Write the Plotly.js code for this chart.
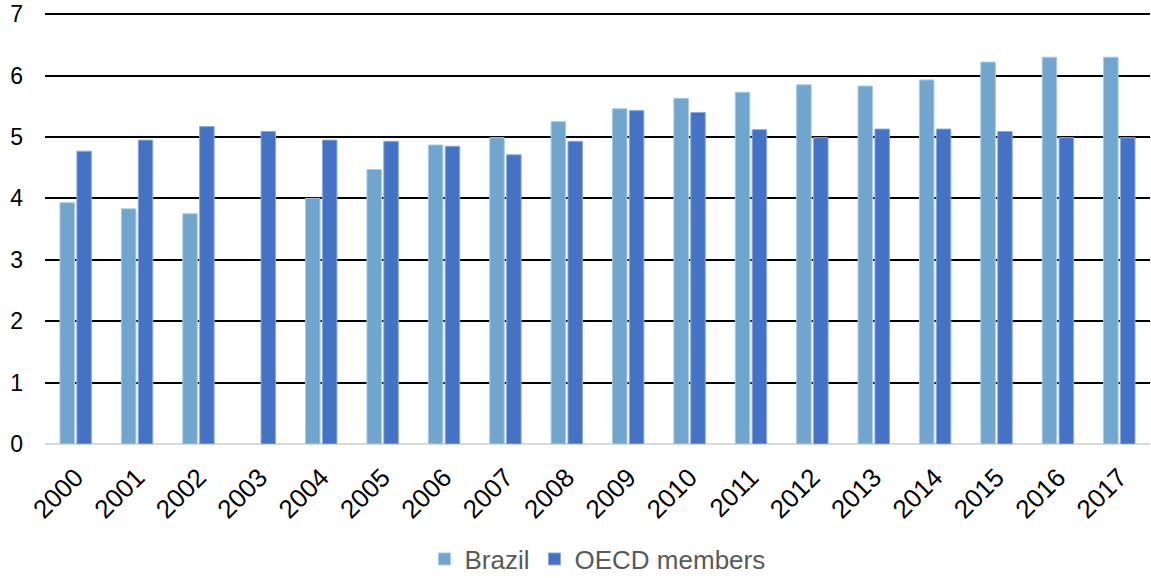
<!DOCTYPE html>
<html>
<head>
<meta charset="utf-8">
<script src="https://cdn.plot.ly/plotly-3.0.1.min.js"></script>
<style>
  html, body { margin: 0; padding: 0; background: #fff; }
  #chart { width: 1151px; height: 578px; }
</style>
</head>
<body>
<div id="chart"></div>
<script>
// Years on the category axis
const years = ['2000','2001','2002','2003','2004','2005','2006','2007','2008',
               '2009','2010','2011','2012','2013','2014','2015','2016','2017'];

// Brazil (no value reported for 2003)
const brazil = [3.93, 3.83, 3.75, null, 4.00, 4.47, 4.87, 4.99, 5.25,
                5.46, 5.63, 5.73, 5.85, 5.83, 5.93, 6.22, 6.30, 6.30];

// OECD members average
const oecd = [4.77, 4.95, 5.17, 5.09, 4.95, 4.93, 4.85, 4.71, 4.93,
              5.43, 5.40, 5.12, 4.99, 5.13, 5.13, 5.09, 4.99, 4.99];

const yTicks = [0, 1, 2, 3, 4, 5, 6, 7];

const font = 'Liberation Sans, Arial, Helvetica, sans-serif';

const traces = [
  {
    type: 'bar', name: 'Brazil', x: years, y: brazil,
    marker: { color: '#70A5CE', line: { color: '#A9CBE6', width: 1 } }
  },
  {
    type: 'bar', name: 'OECD members', x: years, y: oecd,
    marker: { color: '#4472C4', line: { color: '#8FA9DC', width: 1 } }
  }
];

const layout = {
  width: 1151, height: 578,
  margin: { l: 45, r: 1, t: 13, b: 134, autoexpand: false },
  paper_bgcolor: '#fff', plot_bgcolor: '#fff',
  barmode: 'group',
  bargap: 0.45,
  bargroupgap: 0.14,
  font: { family: font, size: 23, color: '#000' },
  xaxis: {
    type: 'category',
    tickangle: -45,
    tickfont: { family: font, size: 26, color: '#000' },
    showgrid: false, showline: false, ticks: '',
    zeroline: false, automargin: false,
    ticklabelstandoff: 12
  },
  yaxis: {
    range: [0, 7.02],
    tickvals: yTicks,
    ticktext: yTicks.map(String),
    tickfont: { family: font, size: 23, color: '#000' },
    showgrid: true, gridcolor: '#000', gridwidth: 2,
    zeroline: true, zerolinecolor: '#d9d9d9', zerolinewidth: 2,
    showline: false, ticks: '', automargin: false,
    ticklabelstandoff: 21
  },
  legend: {
    orientation: 'h',
    x: 0.5, xanchor: 'center',
    y: -0.267, yanchor: 'middle',
    font: { family: font, size: 26, color: '#595959' },
    itemwidth: 30,
    traceorder: 'normal'
  },
  showlegend: true
};

Plotly.newPlot('chart', traces, layout, { displayModeBar: false, staticPlot: true });
</script>
</body>
</html>
